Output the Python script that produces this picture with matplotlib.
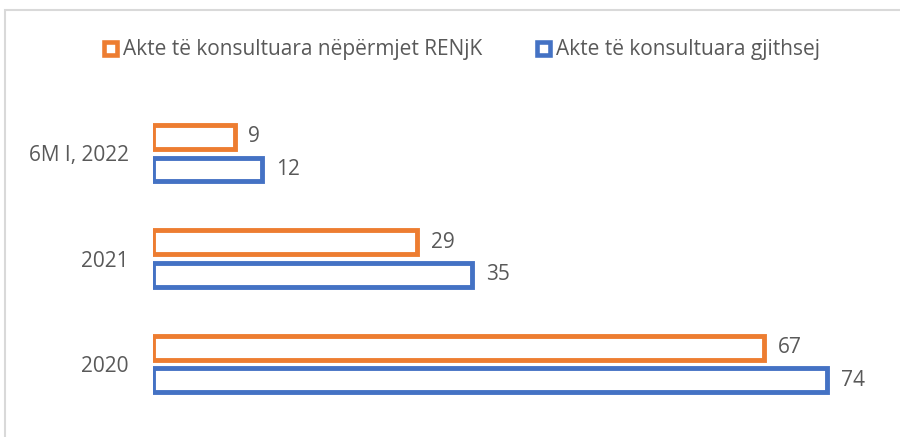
import matplotlib.pyplot as plt
from matplotlib.patches import Patch, Rectangle

# data
categories = ['2020', '2021', '6M I, 2022']
renjk = [67, 29, 9]
gjithsej = [74, 35, 12]
labels = ['Akte të konsultuara nëpërmjet RENjK', 'Akte të konsultuara gjithsej']

orange = '#ED7D31'
blue = '#4472C4'
grey = '#595959'

plt.rcParams['font.family'] = ['Open Sans', 'DejaVu Sans']

fig = plt.figure(figsize=(9, 4.37), dpi=100)

# chart frame (light grey, cut off on the right and bottom)
fig.patches.append(Rectangle((4.5 / 900, -0.05), 1.0, 427 / 437 + 0.05,
                             transform=fig.transFigure, fill=False,
                             edgecolor='#D9D9D9', linewidth=1.5))

px_unit_x = 9.12
px_unit_y = 105.35
ax = fig.add_axes([152.5 / 900, (437 - 364 - 0.6 * px_unit_y) / 437,
                   80 * px_unit_x / 900, 3.2 * px_unit_y / 437])

y = list(range(len(categories)))
h = 0.225
off = 0.155
b1 = ax.barh([v + off for v in y], renjk, height=h, facecolor='white',
             edgecolor=orange, linewidth=3.5, label=labels[0])
b2 = ax.barh([v - off for v in y], gjithsej, height=h, facecolor='white',
             edgecolor=blue, linewidth=3.5, label=labels[1])
ax.bar_label(b1, padding=10, fontsize=15, color=grey)
ax.bar_label(b2, padding=10, fontsize=15, color=grey)

ax.set_xlim(0, 80)
ax.set_ylim(-0.6, 2.6)
ax.set_yticks(y)
ax.set_yticklabels(categories, fontsize=15, color=grey)
ax.tick_params(axis='y', length=0, pad=17)
ax.set_xticks([])
for s in ax.spines.values():
    s.set_visible(False)

handles = [Patch(facecolor='white', edgecolor=orange, linewidth=3.3),
           Patch(facecolor='white', edgecolor=blue, linewidth=3.3)]
leg = fig.legend(handles, labels, loc='center', bbox_to_anchor=(462 / 900, 1 - 50 / 437),
                 ncol=2, frameon=False, fontsize=15, handlelength=0.62, handleheight=0.6,
                 handletextpad=0.3, columnspacing=2.6, borderpad=0)
for t in leg.get_texts():
    t.set_color(grey)

fig.savefig('out.png', dpi=100)
